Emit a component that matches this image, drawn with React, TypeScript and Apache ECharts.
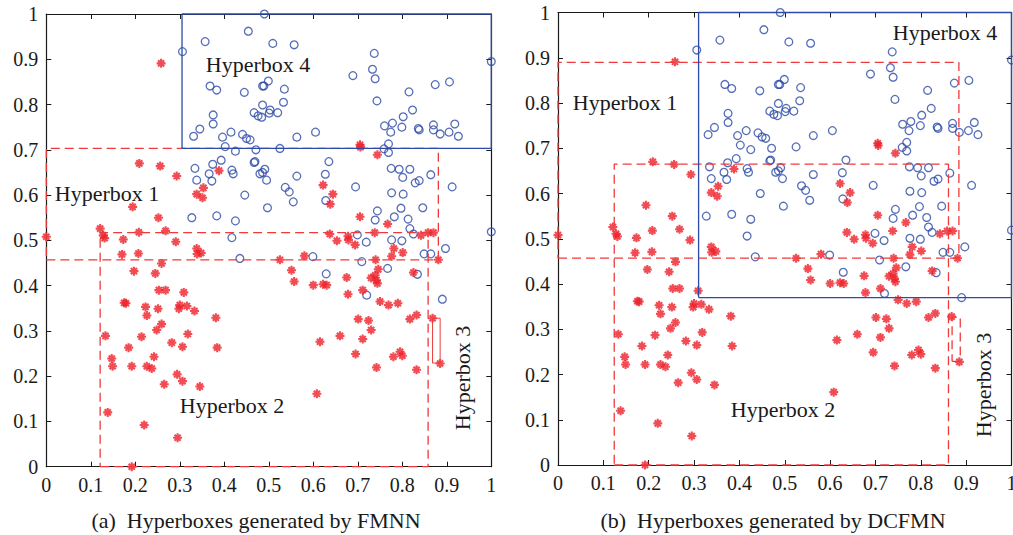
import React, { useEffect, useRef } from "react";
import * as echarts from "echarts";

const tickLabels = ["0", "0.1", "0.2", "0.3", "0.4", "0.5", "0.6", "0.7", "0.8", "0.9", "1"];

// class 1 samples (red asterisks)
const class1Stars: number[][] = [
  [0.258, 0.891], [0.209, 0.670], [0.256, 0.664], [0.293, 0.642], [0.388, 0.654],
  [0.353, 0.616], [0.338, 0.602], [0.351, 0.594], [0.194, 0.574], [0.252, 0.550],
  [0.121, 0.526], [0.128, 0.511], [0.131, 0.505], [0.0, 0.508], [0.173, 0.502],
  [0.208, 0.518], [0.268, 0.521], [0.291, 0.497], [0.338, 0.482], [0.170, 0.469],
  [0.207, 0.471], [0.339, 0.470], [0.348, 0.472], [0.259, 0.449], [0.197, 0.432],
  [0.245, 0.427], [0.253, 0.390], [0.268, 0.390], [0.309, 0.385], [0.175, 0.362],
  [0.179, 0.361], [0.223, 0.353], [0.251, 0.349], [0.300, 0.357], [0.316, 0.355],
  [0.298, 0.349], [0.333, 0.344], [0.226, 0.334], [0.259, 0.315], [0.248, 0.302],
  [0.133, 0.289], [0.214, 0.287], [0.318, 0.293], [0.381, 0.329], [0.282, 0.274],
  [0.306, 0.265], [0.185, 0.263], [0.384, 0.263], [0.147, 0.239], [0.242, 0.243],
  [0.149, 0.222], [0.192, 0.222], [0.226, 0.222], [0.237, 0.217], [0.294, 0.204],
  [0.306, 0.189], [0.265, 0.182], [0.345, 0.177], [0.138, 0.120], [0.220, 0.092],
  [0.295, 0.064], [0.192, 0.0],
  [0.637, 0.514], [0.653, 0.499], [0.678, 0.509], [0.679, 0.501], [0.694, 0.490],
  [0.738, 0.517], [0.781, 0.482], [0.776, 0.465], [0.801, 0.473], [0.842, 0.511],
  [0.858, 0.517], [0.870, 0.517], [0.881, 0.457], [0.525, 0.457], [0.580, 0.466],
  [0.551, 0.434], [0.557, 0.409], [0.600, 0.401], [0.622, 0.403], [0.630, 0.401],
  [0.675, 0.418], [0.678, 0.381], [0.711, 0.390], [0.730, 0.417], [0.739, 0.423],
  [0.742, 0.412], [0.746, 0.436], [0.740, 0.457], [0.744, 0.405], [0.750, 0.365],
  [0.769, 0.357], [0.790, 0.361], [0.701, 0.326], [0.724, 0.323], [0.730, 0.302],
  [0.711, 0.282], [0.660, 0.289], [0.615, 0.276], [0.695, 0.249], [0.780, 0.243],
  [0.795, 0.254], [0.800, 0.245], [0.742, 0.219], [0.832, 0.214], [0.817, 0.326],
  [0.832, 0.335], [0.608, 0.161], [0.868, 0.328], [0.885, 0.228], [0.825, 0.429],
  [0.705, 0.711], [0.706, 0.706], [0.744, 0.689], [0.622, 0.622], [0.644, 0.602],
  [0.638, 0.580], [0.705, 0.552], [0.767, 0.536],
];

// class 2 samples (blue circles)
const class2Circles: number[][] = [
  [0.490, 1.0], [0.454, 0.962], [0.509, 0.935], [0.557, 0.932], [0.737, 0.913],
  [0.733, 0.878], [0.739, 0.857], [0.689, 0.864], [1.0, 0.895], [0.499, 0.852],
  [0.486, 0.841], [0.489, 0.841], [0.445, 0.827], [0.535, 0.834], [0.533, 0.805],
  [0.486, 0.799], [0.467, 0.782], [0.476, 0.775], [0.484, 0.772], [0.503, 0.788],
  [0.501, 0.781], [0.520, 0.782], [0.743, 0.808], [0.815, 0.828], [0.874, 0.844],
  [0.906, 0.850], [0.823, 0.788], [0.802, 0.773], [0.760, 0.753], [0.778, 0.759],
  [0.774, 0.739], [0.799, 0.750], [0.836, 0.747], [0.838, 0.744], [0.870, 0.755],
  [0.870, 0.744], [0.885, 0.735], [0.905, 0.739], [0.918, 0.757], [0.926, 0.730],
  [0.605, 0.739], [0.563, 0.728], [0.441, 0.734], [0.450, 0.725], [0.458, 0.722],
  [0.525, 0.703], [0.471, 0.700], [0.759, 0.702], [0.769, 0.713], [0.769, 0.694],
  [0.635, 0.674], [0.627, 0.646], [0.467, 0.672], [0.469, 0.674], [0.480, 0.647],
  [0.491, 0.657], [0.486, 0.650], [0.495, 0.633], [0.563, 0.642], [0.446, 0.600],
  [0.537, 0.617], [0.546, 0.607], [0.555, 0.585], [0.497, 0.572], [0.628, 0.588],
  [0.695, 0.618], [0.775, 0.659], [0.793, 0.657], [0.817, 0.657], [0.801, 0.639],
  [0.829, 0.627], [0.838, 0.632], [0.864, 0.645], [0.912, 0.618], [0.776, 0.605],
  [0.802, 0.602], [0.797, 0.571], [0.846, 0.572], [0.744, 0.565], [0.739, 0.545],
  [0.782, 0.552], [0.813, 0.547], [0.817, 0.526], [0.825, 0.514], [0.699, 0.512],
  [0.719, 0.496], [0.776, 0.501], [0.799, 0.499], [0.897, 0.482], [1.0, 0.519],
  [0.306, 0.917], [0.357, 0.939], [0.368, 0.841], [0.383, 0.832], [0.375, 0.777],
  [0.375, 0.757], [0.345, 0.746], [0.331, 0.730], [0.396, 0.728], [0.415, 0.739],
  [0.402, 0.707], [0.425, 0.697], [0.393, 0.677], [0.374, 0.668], [0.334, 0.659],
  [0.338, 0.633], [0.366, 0.647], [0.372, 0.631], [0.417, 0.655], [0.420, 0.647],
  [0.327, 0.550], [0.383, 0.554], [0.425, 0.543], [0.417, 0.506], [0.435, 0.460],
  [0.599, 0.464], [0.629, 0.426], [0.709, 0.453], [0.767, 0.438], [0.834, 0.425],
  [0.720, 0.379], [0.849, 0.470], [0.864, 0.470], [0.890, 0.370],
];

// hyperboxes: [xMin, yMin, xMax, yMax]
const fmnnBox1 = [0, 0.457, 0.881, 0.703];
const fmnnBox2 = [0.121, 0, 0.858, 0.517];
const fmnnBox3 = [0.868, 0.229, 0.885, 0.328];
const fmnnBox4 = [0.305, 0.703, 1, 1];
const dcfmnBox1 = [0, 0.457, 0.884, 0.890];
const dcfmnBox2 = [0.124, 0, 0.861, 0.665];
const dcfmnBox3 = [0.869, 0.229, 0.887, 0.327];
const dcfmnBox4 = [0.310, 0.370, 1, 1];

const boxNames = ["Hyperbox 1", "Hyperbox 2", "Hyperbox 3", "Hyperbox 4"];
const captions = ["(a)  Hyperboxes generated by FMNN", "(b)  Hyperboxes generated by DCFMN"];

const RED = "#ee1f28";
const RED_LINE = "#ee3a3a";
const BLUE = "#2c4aa6";
const INK = "#1a1a1a";
const FONT = '"Liberation Serif", "DejaVu Serif", serif';
const STAR = "path://M5,0L5,10M0,5L10,5M1.6,1.6L8.4,8.4M1.6,8.4L8.4,1.6";

function boxPath(b: number[]) {
  return [[b[0], b[1]], [b[2], b[1]], [b[2], b[3]], [b[0], b[3]], [b[0], b[1]]];
}

export default function App() {
  const ref = useRef<HTMLDivElement>(null);
  useEffect(() => {
    if (!ref.current) return;
    const chart = echarts.init(ref.current, undefined, { renderer: "svg" });
    const fmt = (v: number) => tickLabels[Math.round(v * 10)] ?? "";
    const mkX = (gi: number, pos: string, labels: boolean) => ({
      type: "value", gridIndex: gi, position: pos, min: 0, max: 1, interval: 0.1,
      axisLine: { show: true, onZero: false, lineStyle: { color: INK, width: 1.2 } },
      axisTick: { show: true, inside: true, length: 5, lineStyle: { color: INK, width: 1 } },
      axisLabel: {
        show: labels, formatter: fmt, fontFamily: FONT, fontSize: 20, color: INK, margin: 8,
        hideOverlap: false, showMinLabel: true, showMaxLabel: true,
      },
      splitLine: { show: false },
    });
    const grids = [
      { left: 46.3, top: 14, width: 445, height: 452.7, outerBoundsMode: "none", containLabel: false },
      { left: 558, top: 12.5, width: 453.5, height: 452.5, outerBoundsMode: "none", containLabel: false },
    ];
    const boxSeries = (b: number[], color: string, dashed: boolean, xi: number, width = 1.3) => ({
      type: "line", xAxisIndex: xi, yAxisIndex: xi, data: boxPath(b), showSymbol: false,
      symbol: "none", clip: false, silent: true, z: 3,
      lineStyle: { color, width, type: dashed ? [9, 5] : "solid" },
    });
    const pointSeries = (xi: number) => [
      {
        type: "scatter", xAxisIndex: xi, yAxisIndex: xi, data: class2Circles, clip: false,
        symbol: "circle", symbolSize: 7.8, z: 2,
        itemStyle: { color: "rgba(0,0,0,0)", borderColor: BLUE, borderWidth: 1.3 },
      },
      {
        type: "scatter", xAxisIndex: xi, yAxisIndex: xi, data: class1Stars, clip: false,
        symbol: STAR, symbolSize: 9, z: 2,
        itemStyle: { color: RED, borderColor: RED, borderWidth: 2.1 },
      },
    ];
    const label = (text: string, x: number, y: number, rot = 0, size = 20) => ({
      type: "text", x, y, rotation: rot, scaleX: 1.1, z: 10,
      style: { text, font: `${size}px ${FONT}`, fill: INK, textAlign: "center", textVerticalAlign: "middle" },
    });
    chart.setOption({
      animation: false,
      backgroundColor: "#ffffff",
      grid: grids,
      xAxis: [mkX(0, "bottom", true), mkX(0, "top", false), mkX(1, "bottom", true), mkX(1, "top", false)],
      yAxis: [mkX(0, "left", true), mkX(0, "right", false), mkX(1, "left", true), mkX(1, "right", false)],
      series: [
        ...pointSeries(0),
        boxSeries(fmnnBox1, RED_LINE, true, 0),
        boxSeries(fmnnBox2, RED_LINE, true, 0),
        boxSeries(fmnnBox3, RED_LINE, false, 0, 1),
        boxSeries(fmnnBox4, BLUE, false, 0),
        ...pointSeries(2),
        boxSeries(dcfmnBox1, RED_LINE, true, 2),
        boxSeries(dcfmnBox2, RED_LINE, true, 2),
        boxSeries(dcfmnBox3, RED_LINE, true, 2),
        boxSeries(dcfmnBox4, BLUE, false, 2),
      ],
      graphic: [
        label(boxNames[3], 258, 65),
        label(boxNames[0], 107, 194),
        label(boxNames[1], 232, 406),
        label(boxNames[2], 463, 378, Math.PI / 2),
        label(boxNames[0], 625, 103),
        label(boxNames[3], 945, 33),
        label(boxNames[1], 783, 410),
        label(boxNames[2], 984, 385, Math.PI / 2),
        label(captions[0], 256, 521),
        label(captions[1], 773, 521),
      ],
    });
    return () => chart.dispose();
  }, []);
  return (
    <div
      ref={ref}
      style={{ position: "absolute", left: 0, top: 0, width: 1013, height: 535, background: "#fff" }}
    />
  );
}
